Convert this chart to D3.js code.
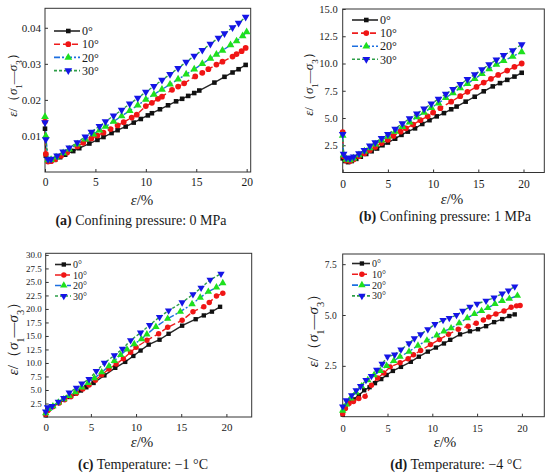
<!DOCTYPE html>
<html lang="en">
<head>
<meta charset="utf-8">
<title>Strain ratio curves</title>
<script src="https://d3js.org/d3.v7.min.js"></script>
<style>
body{ margin:0; background:#fff; }
svg text{ font-family:"Liberation Serif","Times New Roman",serif; fill:#1a1a1a; }
.axis path{ display:none; }
.axis line{ stroke:#333; }
</style>
</head>
<body>
<svg id="fig" width="550" height="475"></svg>
<script>
// series names and tick labels
const seriesNames = ["0°", "10°", "20°", "30°"];
const xTicks = [0, 5, 10, 15, 20];
const yTicksA = [0.01, 0.02, 0.03, 0.04];
const yTicksB = [2.5, 5, 7.5, 10, 12.5, 15];
const yTicksC = [2.5, 5, 7.5, 10, 12.5, 15, 17.5, 20, 22.5, 25, 27.5, 30];
const yTicksD = [2.5, 5, 7.5];
const captions = [
  ["(a)", " Confining pressure: 0 MPa"],
  ["(b)", " Confining pressure: 1 MPa"],
  ["(c)", " Temperature: \u22121 \u00B0C"],
  ["(d)", " Temperature: \u22124 \u00B0C"]
];

// (a) confining pressure 0 MPa  [strain %, value]
const a0 = [[0,0.012],[0.08,0.0045],[0.3,0.003],[0.6,0.0031],[1.0,0.0034],[1.5,0.0041],[2.0,0.0048],[2.8,0.0058],[3.4,0.0066],[4.4,0.0079],[5.2,0.0089],[5.8,0.0097],[6.6,0.0108],[7.2,0.0116],[8.0,0.0126],[8.8,0.0137],[9.5,0.0147],[10.2,0.0157],[10.6,0.0163],[11.4,0.0174],[12.2,0.0185],[13.0,0.0196],[13.6,0.0203],[14.2,0.0211],[14.8,0.0219],[15.3,0.0226],[16.8,0.0248],[17.8,0.0264],[18.6,0.0276],[19.2,0.0285],[19.9,0.0297]];
const a1 = [[0,0.014],[0.08,0.005],[0.3,0.0029],[0.6,0.003],[1.0,0.0035],[1.6,0.0045],[2.2,0.0054],[3.2,0.0071],[3.8,0.0081],[4.6,0.0093],[5.2,0.0101],[5.8,0.0109],[6.5,0.0119],[7.2,0.0129],[7.8,0.0138],[8.6,0.0151],[9.1,0.0159],[10.0,0.0183],[10.6,0.0192],[11.2,0.0203],[11.6,0.0209],[12.6,0.0228],[13.2,0.0237],[13.8,0.0246],[14.9,0.0265],[15.6,0.0275],[16.2,0.0285],[17.0,0.0298],[17.6,0.0306],[18.6,0.032],[19.0,0.0327],[19.5,0.0335],[19.9,0.0344]];
const a2 = [[0,0.0153],[0.08,0.0100],[0.3,0.0033],[0.6,0.0034],[1.1,0.0041],[1.8,0.0053],[2.4,0.0063],[3.2,0.0077],[4.0,0.0091],[4.8,0.0105],[5.4,0.0116],[6.0,0.0126],[6.8,0.0140],[7.6,0.0155],[8.4,0.0170],[9.2,0.0185],[10.0,0.0201],[10.8,0.0215],[11.6,0.0229],[12.4,0.0243],[13.2,0.0257],[14.0,0.0271],[14.8,0.0285],[15.6,0.0300],[16.4,0.0315],[17.0,0.0326],[17.6,0.0337],[18.4,0.0352],[19.0,0.0363],[19.6,0.0377],[20.0,0.0388]];
const a3 = [[0,0.0137],[0.08,0.0090],[0.3,0.0035],[0.6,0.0036],[1.2,0.0045],[1.8,0.0056],[2.4,0.0067],[3.2,0.0082],[4.0,0.0098],[4.6,0.0111],[5.4,0.0127],[6.0,0.0140],[6.8,0.0156],[7.6,0.0172],[8.4,0.0189],[9.2,0.0205],[10.0,0.0222],[10.8,0.0238],[11.6,0.0255],[12.4,0.0271],[13.2,0.0288],[14.0,0.0305],[14.8,0.0322],[15.6,0.0338],[16.4,0.0355],[17.2,0.0372],[17.8,0.0384],[18.6,0.0401],[19.2,0.0413],[19.9,0.0430]];

// (b) confining pressure 1 MPa
const b0 = [[0,1.3],[0.3,1.05],[0.6,0.95],[1.0,1.05],[1.5,1.25],[2.0,1.45],[2.6,1.7],[3.2,1.95],[3.8,2.2],[4.4,2.5],[5.0,2.75],[5.8,3.1],[6.5,3.45],[7.2,3.75],[8.0,4.05],[8.8,4.45],[9.6,4.8],[10.4,5.15],[11.2,5.45],[12.0,5.8],[12.6,6.05],[13.6,6.5],[14.6,6.95],[15.6,7.45],[16.6,7.9],[17.4,8.2],[18.2,8.5],[19.0,8.8],[19.8,9.15]];
const b1 = [[0,3.7],[0.1,1.5],[0.4,1.1],[0.8,1.05],[1.2,1.2],[1.8,1.5],[2.4,1.75],[3.0,2.05],[3.6,2.35],[4.3,2.7],[5.0,3.0],[5.6,3.35],[6.4,3.75],[7.0,4.05],[7.8,4.4],[8.6,4.8],[9.4,5.15],[10.0,5.5],[10.8,5.9],[12.0,6.5],[13.0,7.0],[13.8,7.4],[14.8,7.85],[15.6,8.25],[16.4,8.6],[17.2,8.95],[18.2,9.35],[19.0,9.7],[19.8,10.0]];
const b2 = [[0,3.4],[0.1,1.6],[0.4,1.2],[0.8,1.15],[1.2,1.3],[1.8,1.6],[2.4,1.95],[3.0,2.25],[3.6,2.6],[4.3,2.95],[5.0,3.3],[5.8,3.75],[6.6,4.2],[7.4,4.6],[8.2,5.1],[9.0,5.5],[9.8,5.95],[10.6,6.35],[11.4,6.85],[12.2,7.3],[13.0,7.75],[13.8,8.15],[14.6,8.6],[15.4,9.05],[16.2,9.5],[17.0,9.9],[17.8,10.25],[18.8,10.65],[19.8,11.05]];
const b3 = [[0,3.5],[0.1,1.7],[0.4,1.35],[0.8,1.3],[1.2,1.45],[1.8,1.75],[2.4,2.05],[3.0,2.45],[3.6,2.75],[4.3,3.15],[5.0,3.5],[5.8,4.0],[6.6,4.5],[7.4,4.95],[8.2,5.4],[9.0,5.85],[9.8,6.3],[10.6,6.75],[11.4,7.2],[12.2,7.65],[13.0,8.1],[13.8,8.55],[14.6,9.0],[15.4,9.45],[16.2,9.9],[17.0,10.35],[17.8,10.75],[18.8,11.2],[19.8,11.75]];

// (c) temperature -1 C
const c0 = [[0,0.3],[0.2,1.2],[0.8,2.0],[1.4,2.6],[2.0,3.2],[2.7,3.7],[3.3,4.3],[3.9,4.9],[4.5,5.5],[5.3,6.3],[6.5,7.7],[7.7,9.1],[8.8,10.2],[9.7,11.3],[10.5,12.3],[11.4,13.4],[12.6,14.3],[13.6,15.4],[15.1,16.9],[16.6,18.1],[17.5,18.8],[18.4,19.5],[19.3,20.4]];
const c1 = [[0,0.5],[0.3,1.3],[0.8,1.9],[1.5,2.6],[2.1,3.2],[2.8,3.8],[3.4,4.4],[4.1,5.2],[4.8,5.9],[5.5,6.8],[6.2,7.8],[7.0,8.9],[7.8,9.8],[8.6,10.8],[9.4,12.0],[10.0,12.9],[11.2,14.2],[12.5,15.4],[13.5,16.6],[15.1,17.9],[16.3,19.5],[17.5,20.4],[18.1,21.2],[18.9,22.4],[19.6,22.9]];
const c2 = [[0,0.7],[0.3,1.5],[0.8,2.0],[1.4,2.7],[2.0,3.3],[2.6,3.9],[3.3,4.6],[4.0,5.5],[4.7,6.3],[5.4,7.2],[6.2,8.3],[7.0,9.4],[7.6,10.4],[8.3,11.5],[9.0,12.5],[9.8,13.5],[10.6,14.4],[11.2,15.3],[12.2,16.7],[13.5,18.2],[14.9,19.5],[16.2,20.9],[17.1,22.1],[18.0,23.2],[18.9,24.0],[19.6,24.8]];
const c3 = [[0,1.0],[0.2,1.8],[0.7,2.0],[1.4,2.8],[2.0,3.5],[2.6,4.5],[3.4,5.4],[4.0,6.2],[4.8,7.0],[5.6,8.5],[6.5,10.0],[7.6,11.4],[8.5,12.6],[9.4,14.2],[10.5,15.6],[11.5,17.0],[12.6,18.5],[13.6,19.7],[15.1,21.2],[16.3,22.7],[17.2,23.9],[18.2,25.4],[19.4,26.5]];

// (d) temperature -4 C
const d0 = [[0,0.1],[0.3,0.45],[0.7,0.7],[1.2,0.85],[1.8,1.05],[2.4,1.3],[3.0,1.45],[3.6,1.65],[4.3,1.85],[4.9,2.05],[5.6,2.25],[6.5,2.45],[7.6,2.7],[8.5,2.95],[9.5,3.2],[10.4,3.4],[11.3,3.6],[12.0,3.78],[13.1,4.05],[14.2,4.2],[15.1,4.3],[16.0,4.45],[16.9,4.65],[17.8,4.8],[18.6,4.95],[19.2,5.03]];
const d1 = [[0,0.15],[0.3,0.4],[0.7,0.65],[1.2,0.75],[1.8,0.9],[2.5,1.0],[3.2,1.55],[3.9,1.9],[4.6,2.15],[5.3,2.45],[6.4,2.65],[7.3,2.85],[7.9,3.05],[8.7,3.25],[9.8,3.55],[10.8,3.8],[11.8,4.05],[12.9,4.3],[14.0,4.45],[14.9,4.6],[15.7,4.75],[16.3,4.9],[17.1,5.05],[18.0,5.2],[18.8,5.38],[19.4,5.45],[19.8,5.47]];
const d2 = [[0,0.3],[0.4,0.6],[0.9,0.9],[1.5,1.2],[2.1,1.5],[2.8,1.8],[3.5,2.05],[4.2,2.25],[4.9,2.5],[5.7,2.75],[6.4,2.95],[7.4,3.2],[8.4,3.5],[9.4,3.75],[10.5,4.0],[11.3,4.2],[12.1,4.35],[13.0,4.6],[13.9,4.85],[14.7,5.05],[15.5,5.2],[16.2,5.35],[17.0,5.55],[17.8,5.7],[18.6,5.8],[19.5,5.95]];
const d3s = [[0,0.5],[0.4,0.8],[1.0,1.05],[1.5,1.3],[2.0,1.5],[2.6,1.8],[3.2,2.0],[3.8,2.3],[4.4,2.6],[5.0,2.95],[5.8,3.05],[6.5,3.3],[7.4,3.6],[8.0,3.85],[8.7,4.05],[9.5,4.3],[10.3,4.55],[11.2,4.75],[11.9,4.85],[12.7,5.0],[13.4,5.2],[14.2,5.4],[15.0,5.55],[16.0,5.7],[16.9,5.85],[17.8,6.05],[18.5,6.2],[19.2,6.4]];

// look of the four series
const styles = [
  {line:"#262626", dash:null, fill:"#111", shape:d3.symbolSquare, size:21},
  {line:"#ee1c1c", dash:"6,3", fill:"#f01515", shape:d3.symbolCircle, size:26},
  {line:"#1c6fe0", dash:"6,2,2,2", fill:"#1ee01e", shape:d3.symbolTriangle, size:26},
  {line:"#2e9e48", dash:"3,2", fill:"#1515e6", shape:d3.symbolTriangle, size:26, flip:true}
];

const svg = d3.select("#fig");
const serif = "'Liberation Serif','Times New Roman',serif";

function panel(p){
  var g = svg.append("g");
  var x = d3.scaleLinear().domain(p.xd).range([p.l, p.r]);
  var y = d3.scaleLinear().domain(p.yd).range([p.b, p.t]);

  g.append("g").attr("class","axis")
    .attr("transform","translate(0,"+p.b+")")
    .call(d3.axisBottom(x).tickValues(xTicks).tickSizeInner(-3).tickSizeOuter(0).tickPadding(p.pad+2))
    .attr("font-family",serif).attr("font-size",p.xfs);

  g.append("g").attr("class","axis")
    .attr("transform","translate("+p.l+",0)")
    .call(d3.axisLeft(y).tickValues(p.yt).tickFormat(d3.format(p.fmt)).tickSizeInner(-3).tickSizeOuter(0).tickPadding(p.pad))
    .attr("font-family",serif).attr("font-size",p.fs);

  g.append("rect")
    .attr("x",p.l).attr("y",p.t)
    .attr("width",p.r-p.l).attr("height",p.b-p.t)
    .attr("fill","none").attr("stroke","#333").attr("stroke-width",1);

  var line = d3.line().x(function(d){return x(d[0]);}).y(function(d){return y(d[1]);});

  p.series.forEach(function(s,i){
    var st = styles[i];
    g.append("path").datum(s)
      .attr("d",line)
      .attr("fill","none")
      .attr("stroke",st.line)
      .attr("stroke-width",1.4)
      .attr("stroke-dasharray",st.dash);
  });
  p.series.forEach(function(s,i){
    var st = styles[i];
    var sym = d3.symbol().type(st.shape).size(st.size*p.ms);
    g.selectAll(null).data(s).enter().append("path")
      .attr("d",sym)
      .attr("fill",st.fill)
      .attr("transform",function(d){
        return "translate("+x(d[0])+","+y(d[1])+")"+(st.flip?" rotate(180)":"");
      });
  });

  // legend
  var lg = g.append("g").attr("transform","translate("+p.lx+","+p.ly+")");
  seriesNames.forEach(function(name,i){
    var st = styles[i];
    var row = lg.append("g").attr("transform","translate(0,"+(i*p.lstep)+")");
    row.append("line").attr("x1",0).attr("x2",p.lw).attr("y1",0).attr("y2",0)
      .attr("stroke",st.line).attr("stroke-width",1.6).attr("stroke-dasharray",st.dash);
    row.append("path")
      .attr("d",d3.symbol().type(st.shape).size(st.size*p.ms))
      .attr("fill",st.fill)
      .attr("transform","translate("+(p.lw*0.55)+",0)"+(st.flip?" rotate(180)":""));
    row.append("text").attr("x",p.lw+2).attr("y",0).attr("dy","0.35em")
      .style("font-size",p.lfs+"px").text(name);
  });

  // y label
  var yl = g.append("text")
    .attr("transform","translate("+p.ylx+","+p.yly+") rotate(-90)")
    .attr("text-anchor","middle")
    .style("font-size",p.yfs+"px");
  yl.append("tspan").style("font-style","italic").text("\u03B5");
  yl.append("tspan").text("/\uFF08");
  yl.append("tspan").style("font-style","italic").text("\u03C3");
  yl.append("tspan").attr("baseline-shift","sub").style("font-size",(p.yfs*0.7)+"px").text("1");
  yl.append("tspan").text("\u2014");
  yl.append("tspan").style("font-style","italic").text("\u03C3");
  yl.append("tspan").attr("baseline-shift","sub").style("font-size",(p.yfs*0.7)+"px").text("3");
  yl.append("tspan").text("\uFF09");

  // x label
  var xl = g.append("text").attr("x",p.xlx).attr("y",p.xly)
    .attr("text-anchor","middle").style("font-size","15px");
  xl.append("tspan").style("font-style","italic").text("\u03B5");
  xl.append("tspan").text("/%");

  // caption
  var cap = g.append("text").attr("x",p.cx).attr("y",p.cy)
    .attr("text-anchor","middle").style("font-size","14px");
  cap.append("tspan").style("font-weight","bold").text(p.cap[0]);
  cap.append("tspan").text(p.cap[1]);
}

panel({l:45,r:250.7,t:8.3,b:172, xd:[0,20.4], yd:[0,0.0454], yt:yTicksA, fmt:".2f",
  fs:11, xfs:11.5, pad:4, ms:1, series:[a0,a1,a2,a3],
  lx:54, ly:31, lstep:13.2, lw:26, lfs:12,
  ylx:17, yly:82, yfs:13, xlx:142, xly:205, cx:141, cy:225, cap:captions[0]});

panel({l:342.7,r:544.3,t:9,b:172.5, xd:[0,22.3], yd:[0,15], yt:yTicksB, fmt:".1f",
  fs:10.5, xfs:11.5, pad:5, ms:1, series:[b0,b1,b2,b3],
  lx:352, ly:20, lstep:13.1, lw:26, lfs:12,
  ylx:313, yly:81, yfs:13, xlx:452, xly:204, cx:445, cy:221, cap:captions[1]});

panel({l:45.7,r:251.7,t:253.3,b:417, xd:[0,22.8], yd:[0,30.3], yt:yTicksC, fmt:".1f",
  fs:9, xfs:11, pad:4, ms:0.9, series:[c0,c1,c2,c3],
  lx:55, ly:264.5, lstep:10.5, lw:16, lfs:10,
  ylx:18, yly:335, yfs:15, xlx:142, xly:447, cx:143, cy:469, cap:captions[2]});

panel({l:342.7,r:544.3,t:254,b:416.7, xd:[0,22.5], yd:[0,8], yt:yTicksD, fmt:".1f",
  fs:9.5, xfs:10.5, pad:6, ms:0.9, series:[d0,d1,d2,d3s],
  lx:352, ly:263.5, lstep:10.8, lw:18, lfs:10,
  ylx:318, yly:327, yfs:15, xlx:445, xly:447, cx:456, cy:469, cap:captions[3]});
</script>
</body>
</html>
